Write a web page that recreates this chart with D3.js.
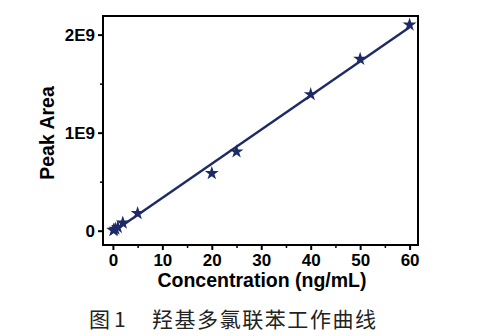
<!DOCTYPE html>
<html><head><meta charset="utf-8">
<script src="https://cdn.jsdelivr.net/npm/d3@7"></script>
<style>body{margin:0;background:#fff}svg{display:block}</style>
</head><body>
<script>
const concentrations = [0.1, 0.2, 0.5, 1, 2, 5, 20, 25, 40, 50, 60];
const peakAreas = [0.004e9, 0.008e9, 0.018e9, 0.035e9, 0.08e9, 0.177e9, 0.585e9, 0.806e9, 1.39e9, 1.75e9, 2.10e9];
const xTicks = [0, 10, 20, 30, 40, 50, 60];
const yTicks = [0, 1e9, 2e9];
const yTickLabels = ["0", "1E9", "2E9"];

const W = 500, H = 336;
const svg = d3.select("body").append("svg").attr("width", W).attr("height", H);
const x = d3.scaleLinear().domain([-2, 61.7]).range([103, 418]);
const y = d3.scaleLinear().domain([-0.146e9, 2.19e9]).range([245, 16]);
const navy = "#1e2a66";
const FONT = "Liberation Sans, Arial, sans-serif";

// frame
svg.append("rect").attr("x", 103).attr("y", 16).attr("width", 315).attr("height", 229)
  .attr("fill", "none").attr("stroke", "#000").attr("stroke-width", 2);

// x axis
const xAxis = d3.axisBottom(x).tickValues(xTicks).tickSize(5).tickPadding(4).tickFormat(d3.format("d"));
const gx = svg.append("g").attr("transform", "translate(0,245)").call(xAxis);
gx.select(".domain").remove();
gx.selectAll(".tick line").attr("stroke-width", 2);
gx.selectAll("text").attr("font-family", FONT).attr("font-weight", "bold").attr("font-size", 17).attr("fill", "#000");
const gxm = svg.append("g").attr("transform", "translate(0,245)")
  .call(d3.axisBottom(x).tickValues([5, 15, 25, 35, 45, 55]).tickSize(3).tickFormat(""));
gxm.select(".domain").remove();
gxm.selectAll(".tick line").attr("stroke-width", 1.5);

// y axis
const yAxis = d3.axisLeft(y).tickValues(yTicks).tickSize(5).tickPadding(3).tickFormat((d, i) => yTickLabels[i]);
const gy = svg.append("g").attr("transform", "translate(103,0)").call(yAxis);
gy.select(".domain").remove();
gy.selectAll(".tick line").attr("stroke-width", 2);
gy.selectAll("text").attr("font-family", FONT).attr("font-weight", "bold").attr("font-size", 17).attr("fill", "#000");
const gym = svg.append("g").attr("transform", "translate(103,0)")
  .call(d3.axisLeft(y).tickValues([0.5e9, 1.5e9]).tickSize(3).tickFormat(""));
gym.select(".domain").remove();
gym.selectAll(".tick line").attr("stroke-width", 1.5);

// regression line
const n = concentrations.length;
const mx = d3.mean(concentrations), my = d3.mean(peakAreas);
let sxy = 0, sxx = 0;
for (let i = 0; i < n; i++) { sxy += (concentrations[i]-mx)*(peakAreas[i]-my); sxx += (concentrations[i]-mx)**2; }
const slope = sxy / sxx, intercept = my - slope * mx;
const xr = [0, 60];
svg.append("line")
  .attr("x1", x(xr[0])).attr("y1", y(intercept + slope*xr[0]))
  .attr("x2", x(xr[1])).attr("y2", y(intercept + slope*xr[1]))
  .attr("stroke", navy).attr("stroke-width", 2.4);

// stars
const star = d3.symbol().type(d3.symbolStar).size(60);
svg.append("g").selectAll("path").data(concentrations).join("path")
  .attr("d", star)
  .attr("transform", (d, i) => `translate(${x(d)},${y(peakAreas[i])})`)
  .attr("fill", navy);

// axis titles
svg.append("text").attr("x", 262).attr("y", 287).attr("text-anchor", "middle")
  .attr("font-family", FONT).attr("font-weight", "bold").attr("font-size", 19.5)
  .text("Concentration (ng/mL)");
svg.append("text").attr("transform", "translate(54,133) rotate(-90)").attr("text-anchor", "middle")
  .attr("font-family", FONT).attr("font-weight", "bold").attr("font-size", 19.5)
  .text("Peak Area");

// caption
const cap = svg.append("g").attr("font-family", "Noto Sans CJK SC, sans-serif").attr("font-size", 21).attr("fill", "#222");
cap.append("text").attr("x", 89).attr("y", 327).text("图");
cap.append("text").attr("x", 114).attr("y", 327).text("1");
cap.append("text").attr("x", 152).attr("y", 327).attr("textLength", 224).attr("lengthAdjust", "spacing").text("羟基多氯联苯工作曲线");
</script>
</body></html>
